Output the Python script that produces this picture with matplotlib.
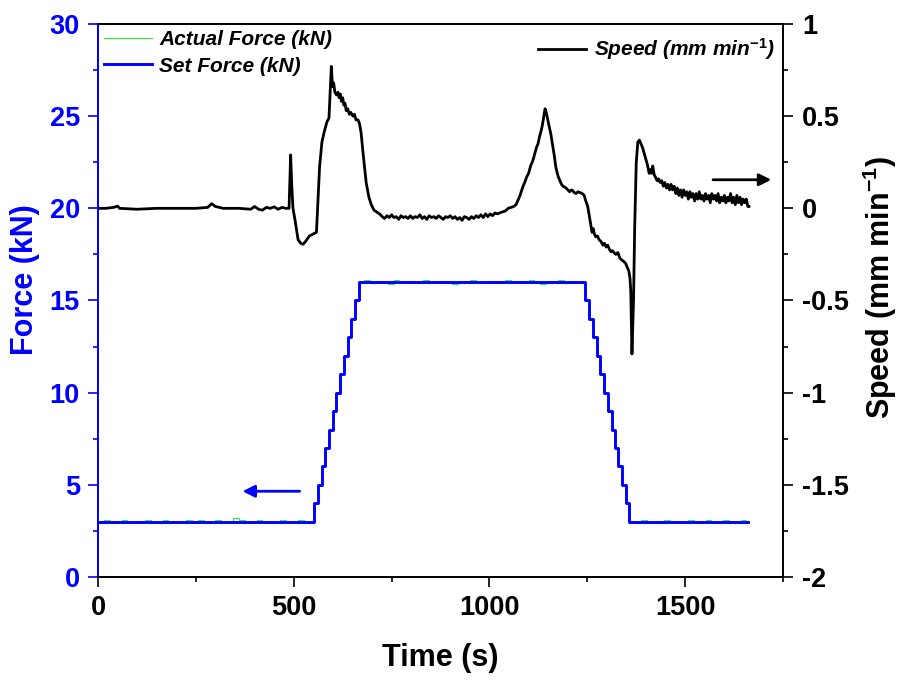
import numpy as np
import matplotlib
matplotlib.use("Agg")
import matplotlib.pyplot as plt

plt.rcParams['font.family'] = ['Liberation Sans', 'DejaVu Sans']
plt.rcParams['font.weight'] = 'bold'
plt.rcParams['mathtext.fontset'] = 'custom'
plt.rcParams['mathtext.rm'] = 'Liberation Sans:bold'
plt.rcParams['mathtext.it'] = 'Liberation Sans:italic:bold'

# set force: step profile (time of each change, level after change)
set_time = [0, 553, 562, 572, 581, 591, 600, 609, 619, 628, 638, 647, 656, 666,
            1244, 1255, 1264, 1274, 1283, 1292, 1302, 1312, 1321, 1329, 1339, 1349, 1357, 1661]
set_force = [3, 4, 5, 6, 7, 8, 9, 10, 11, 12, 13, 14, 15, 16,
             15, 14, 13, 12, 11, 10, 9, 8, 7, 6, 5, 4, 3, 3]

# actual force on the flat parts (small scatter around the set value)
act_t1 = [0, 15, 30, 45, 60, 75, 90, 105, 120, 135, 150, 165, 180, 195, 210, 225, 240, 255, 270,
          285, 300, 315, 330, 345, 360, 375, 390, 405, 420, 435, 450, 465, 480, 495, 510, 525, 540]
act_f1 = [3.0, 3.08, 2.93, 3.0, 3.09, 3.0, 2.92, 3.0, 3.08, 3.0, 2.93, 3.09, 3.0, 3.0, 2.93, 3.08,
          3.0, 3.08, 2.93, 3.0, 3.09, 2.93, 3.0, 3.18, 3.1, 3.0, 2.93, 3.08, 3.0, 2.92, 3.0, 3.09,
          3.0, 2.93, 3.08, 3.0, 2.93]
act_t2 = [666, 680, 695, 710, 725, 740, 755, 770, 785, 800, 815, 830, 845, 860, 875, 890, 905, 920,
          935, 950, 965, 980, 995, 1010, 1025, 1040, 1055, 1070, 1085, 1100, 1115, 1130, 1145, 1160,
          1175, 1190, 1205, 1220, 1235]
act_f2 = [16.0, 16.09, 15.93, 16.08, 16.0, 15.92, 16.09, 16.0, 16.08, 15.93, 16.0, 16.09, 15.93,
          16.0, 16.08, 16.0, 15.92, 16.08, 16.0, 16.09, 15.93, 16.0, 16.08, 16.0, 15.93, 16.09, 16.0,
          16.08, 15.93, 16.09, 16.0, 15.92, 16.08, 16.0, 16.09, 15.93, 16.08, 16.0, 16.08]
act_t3 = [1357, 1372, 1387, 1402, 1417, 1432, 1447, 1462, 1477, 1492, 1507, 1522, 1537, 1552, 1567,
          1582, 1597, 1612, 1627, 1642, 1655]
act_f3 = [3.0, 2.93, 3.08, 3.0, 2.93, 3.0, 3.09, 3.0, 2.92, 3.0, 3.08, 3.0, 2.93, 3.08, 3.0, 2.93,
          3.09, 3.0, 2.93, 3.08, 3.0]

# speed (mm/min) vs time
speed_t = [0, 20, 40, 50, 55, 100, 150, 200, 250, 280, 290, 300, 320, 360, 390, 400, 410, 420, 430,
           440, 450, 460, 470, 480, 488, 492, 495, 498, 503, 511, 518, 524, 530, 540, 549, 558, 566,
           572, 579, 585, 590, 596, 599, 602, 605, 609, 613, 616, 619, 622, 625, 628, 631, 634, 638,
           642, 646, 651, 655, 659, 664, 668, 672, 678, 685, 692, 698,
           705, 712, 719, 726, 732, 738, 744, 750, 756, 762, 768, 774, 780, 786, 792, 798, 804, 810,
           816, 822, 828, 834, 840, 846, 852, 858, 864, 870, 876, 882, 888, 894, 900, 906, 912, 918,
           924, 930, 936, 942, 948, 954, 960, 966, 972, 978, 984, 990, 996, 1002, 1008, 1014, 1020,
           1026, 1032, 1040, 1048, 1055, 1062, 1068,
           1078, 1085, 1090, 1095, 1100, 1105, 1111, 1116, 1120, 1124, 1128, 1132, 1135, 1139, 1142,
           1145, 1148, 1153, 1157, 1160, 1163, 1166, 1169, 1172, 1176, 1179, 1184, 1188, 1192, 1196,
           1200, 1205, 1209, 1213, 1217, 1221, 1226, 1232, 1237, 1242, 1246, 1251, 1255, 1259, 1262,
           1265, 1268, 1272, 1276, 1280, 1285, 1290, 1294, 1298, 1302, 1306, 1310, 1314, 1318, 1323,
           1328, 1333, 1338, 1344, 1348, 1352, 1356, 1359, 1361, 1364, 1368, 1371, 1375, 1379,
           1383, 1387, 1391, 1395, 1399, 1403, 1408, 1411, 1414, 1417, 1421, 1424, 1428, 1432, 1436,
           1440, 1444, 1448, 1452, 1456, 1460, 1464, 1468, 1472, 1476, 1480, 1484, 1488, 1492, 1496,
           1500, 1504, 1508, 1512, 1516, 1520, 1524, 1528, 1532, 1536, 1540, 1544, 1548, 1552, 1556,
           1560, 1564, 1568, 1572, 1576, 1580, 1584, 1588, 1592, 1596, 1600, 1604, 1608, 1612, 1616,
           1620, 1624, 1628, 1632, 1636, 1640, 1644, 1648, 1652, 1656, 1660, 1663]
speed_v = [0.0, 0.0, 0.005, 0.012, 0.0, -0.005, 0.0, 0.0, 0.0, 0.005, 0.025, 0.01, 0.0, 0.0, -0.005,
           0.01, -0.005, -0.01, 0.005, 0.0, 0.008, -0.005, 0.005, 0.0, 0.0, 0.29, 0.12, 0.0, -0.06,
           -0.17, -0.19, -0.195, -0.18, -0.15, -0.14, -0.13, 0.226,
           0.36, 0.425, 0.47, 0.49, 0.77, 0.66, 0.68, 0.63, 0.615, 0.63, 0.6, 0.62, 0.58, 0.6, 0.56,
           0.57, 0.53, 0.54, 0.51, 0.52, 0.5, 0.51, 0.48, 0.48, 0.46, 0.41, 0.28, 0.14, 0.06, 0.02,
           -0.01, -0.02, -0.03, -0.045, -0.055, -0.04, -0.05, -0.035, -0.05, -0.045, -0.06, -0.04,
           -0.05, -0.045, -0.055, -0.04, -0.055, -0.045, -0.05, -0.035, -0.055, -0.045, -0.06, -0.04,
           -0.05, -0.045, -0.055, -0.04, -0.05, -0.06, -0.045, -0.05, -0.04, -0.055, -0.045, -0.06,
           -0.05, -0.065, -0.045, -0.05, -0.06, -0.045, -0.055, -0.04, -0.05, -0.035, -0.05, -0.03,
           -0.045, -0.03, -0.04, -0.025, -0.03, -0.025, -0.02, -0.015, 0.0, 0.005, 0.01, 0.02,
           0.07, 0.115, 0.14, 0.17, 0.19, 0.23, 0.26, 0.3, 0.33, 0.35, 0.39, 0.42, 0.45, 0.5, 0.54,
           0.52, 0.49, 0.44, 0.4, 0.36, 0.32, 0.28, 0.23, 0.2, 0.17, 0.155, 0.13, 0.12, 0.115, 0.11,
           0.1, 0.09, 0.1, 0.095, 0.085, 0.08, 0.09, 0.085, 0.08, 0.07, 0.04, 0.01, -0.04, -0.09, -0.13,
           -0.11, -0.14, -0.155, -0.15, -0.17, -0.18, -0.2, -0.19, -0.21, -0.2, -0.22, -0.235, -0.23,
           -0.24, -0.25,
           -0.24, -0.27, -0.28, -0.29, -0.3, -0.32, -0.34, -0.38, -0.45, -0.79, -0.5, -0.1, 0.25, 0.36,
           0.37, 0.35, 0.33, 0.3, 0.27, 0.24, 0.19, 0.21, 0.19, 0.23, 0.18, 0.17, 0.15, 0.16, 0.14,
           0.15, 0.12, 0.14, 0.11, 0.13, 0.1, 0.13, 0.1, 0.12, 0.08, 0.11, 0.07, 0.1, 0.06, 0.1,
           0.07, 0.09, 0.05, 0.09, 0.06, 0.08, 0.04, 0.08, 0.05, 0.09, 0.05, 0.07, 0.04, 0.08, 0.05,
           0.07, 0.03, 0.08, 0.05, 0.07, 0.04, 0.08, 0.03, 0.06, 0.04, 0.07, 0.03, 0.06, 0.04, 0.08,
           0.03, 0.06, 0.02, 0.07, 0.03, 0.06, 0.02, 0.05, 0.03, 0.05, 0.01, 0.01]

fig = plt.figure(figsize=(9.01, 6.80), dpi=100)
ax = fig.add_axes([0.1088, 0.1515, 0.7603, 0.8132])
ax2 = ax.twinx()

act_t = act_t1 + set_time[1:14] + act_t2 + set_time[14:27] + act_t3
act_f = act_f1 + set_force[1:14] + act_f2 + set_force[14:27] + act_f3
l1, = ax.plot(act_t, act_f, color='#33ee33', lw=0.8, drawstyle='steps-post', label='Actual Force (kN)')
l2, = ax.plot(set_time, set_force, color='#0000ff', lw=2.1, drawstyle='steps-post', label='Set Force (kN)')
l3, = ax2.plot(speed_t, speed_v, color='black', lw=2.0, label='Speed (mm min$^{\\mathit{-1}}$)')

ax.set_xlim(0, 1750)
ax.set_ylim(0, 30)
ax2.set_ylim(-2, 1)
ax.set_xticks([0, 500, 1000, 1500])
ax.set_xticks([250, 750, 1250, 1750], minor=True)
ax.set_yticks([0, 5, 10, 15, 20, 25, 30])
ax.set_yticks(np.arange(2.5, 30, 5), minor=True)
ax2.set_yticks([-2, -1.5, -1, -0.5, 0, 0.5, 1])
ax2.set_yticklabels(['-2', '-1.5', '-1', '-0.5', '0', '0.5', '1'])
ax2.set_yticks(np.arange(-1.75, 1, 0.5), minor=True)

for a in (ax, ax2):
    for s in a.spines.values():
        s.set_linewidth(1.3)
ax2.spines['left'].set_color('#0000ff')
ax.spines['left'].set_color('#0000ff')

ax.tick_params(axis='x', which='major', direction='out', length=7, width=1.2, labelsize=19.5, pad=6)
ax.tick_params(axis='x', which='minor', direction='out', length=3.5, width=1.2)
ax.tick_params(axis='y', which='major', direction='out', length=7, width=1.2, colors='#0000ff',
               labelsize=19.5, pad=6)
ax.tick_params(axis='y', which='minor', direction='out', length=3.5, width=1.2, colors='#0000ff')
ax2.tick_params(axis='y', which='major', direction='out', length=7, width=1.2, labelsize=19.5, pad=6.5)
ax2.tick_params(axis='y', which='minor', direction='out', length=3.5, width=1.2)

ax.set_xlabel('Time (s)', fontsize=22, fontweight='bold', labelpad=16)
ax.set_ylabel('Force (kN)', fontsize=22, fontweight='bold', color='#0000ff', labelpad=8)
ax2.set_ylabel('Speed (mm min$^{\\mathrm{-1}}$)', fontsize=22, fontweight='bold', labelpad=8)
ax.yaxis.set_label_coords(-0.085, 0.537)
ax2.yaxis.set_label_coords(1.114, 0.523)

leg1 = ax.legend(handles=[l1, l2], loc='upper left', frameon=False,
                 prop={'style': 'italic', 'weight': 'bold', 'size': 15},
                 handlelength=2.3, labelspacing=0.35, borderaxespad=0.0, borderpad=0.3,
                 handletextpad=0.35)
leg2 = ax2.legend(handles=[l3], loc='upper right', bbox_to_anchor=(1.0, 0.993), frameon=False,
                  prop={'style': 'italic', 'weight': 'bold', 'size': 15},
                  handlelength=2.3, borderaxespad=0.0, handletextpad=0.35)

# direction arrows
ax.annotate('', xy=(362, 4.65), xytext=(522, 4.65),
            arrowprops=dict(arrowstyle='-|>', color='#0000ff', lw=2.0, mutation_scale=18))
ax2.annotate('', xy=(1727, 0.155), xytext=(1564, 0.155),
             arrowprops=dict(arrowstyle='-|>', color='black', lw=2.0, mutation_scale=18))

fig.savefig('out.png', dpi=100)
